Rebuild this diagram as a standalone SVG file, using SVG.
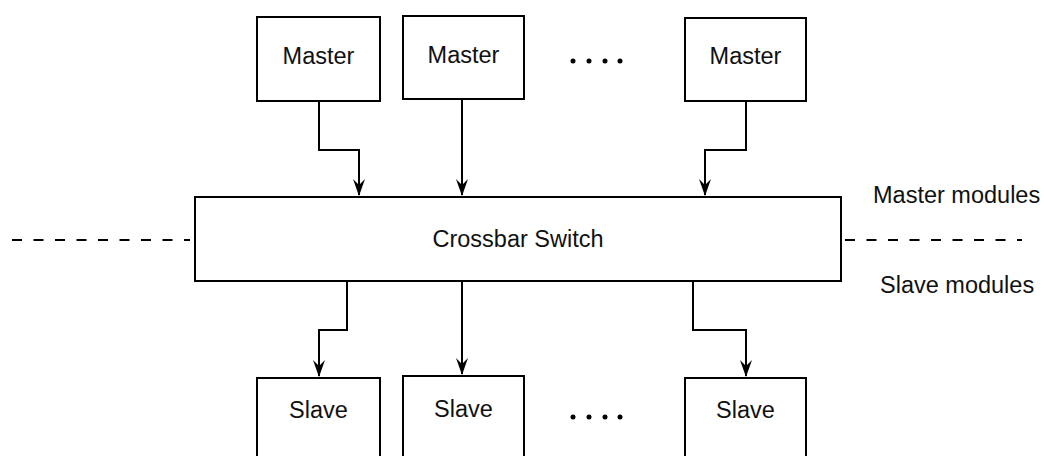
<svg xmlns="http://www.w3.org/2000/svg" width="1044" height="456" viewBox="0 0 1044 456">
<style>
.box{fill:#fff;stroke:#000;stroke-width:2}
.t{font-family:"Liberation Sans",Arial,sans-serif;font-size:23.5px;fill:#111;text-anchor:middle}
.l{font-family:"Liberation Sans",Arial,sans-serif;font-size:23.5px;fill:#111}
.c{fill:none;stroke:#000;stroke-width:2}
.d{fill:none;stroke:#000;stroke-width:2;stroke-dasharray:10 11.5}
</style>
<defs>
<marker id="ah" markerUnits="userSpaceOnUse" markerWidth="20" markerHeight="14" viewBox="-18 -7 20 14" refX="0" refY="0" orient="auto">
<path d="M1,0 L-16,-6 L-10,0 L-16,6 Z" fill="#000"/>
</marker>
</defs>
<g id="master1"><rect class="box" x="257" y="17" width="123" height="84"/><text class="t" x="318.5" y="64">Master</text></g>
<g id="master2"><rect class="box" x="403" y="16" width="121" height="83"/><text class="t" x="463.5" y="63">Master</text></g>
<g id="master3"><rect class="box" x="685" y="18" width="121" height="83"/><text class="t" x="745.5" y="64">Master</text></g>
<g id="dots-top"><circle cx="573" cy="61" r="2.5"/><circle cx="589" cy="61" r="2.5"/><circle cx="605" cy="61" r="2.5"/><circle cx="620" cy="61" r="2.5"/></g>
<g id="crossbar"><rect class="box" x="195" y="197" width="646" height="84"/><text class="t" x="518" y="247">Crossbar Switch</text></g>
<g id="slave1"><rect class="box" x="257" y="378" width="123" height="90"/><text class="t" x="318.5" y="418">Slave</text></g>
<g id="slave2"><rect class="box" x="403" y="376" width="121" height="92"/><text class="t" x="463.5" y="417">Slave</text></g>
<g id="slave3"><rect class="box" x="685" y="378" width="121" height="90"/><text class="t" x="745.5" y="418">Slave</text></g>
<g id="dots-bottom"><circle cx="573" cy="417" r="2.5"/><circle cx="589" cy="417" r="2.5"/><circle cx="605" cy="417" r="2.5"/><circle cx="620" cy="417" r="2.5"/></g>
<g id="labels"><text class="l" x="873" y="203">Master modules</text><text class="l" x="880" y="293">Slave modules</text></g>
<g id="connectors">
<path class="c" d="M319,101 V150 H359 V195" marker-end="url(#ah)"/>
<path class="c" d="M462,99 V195" marker-end="url(#ah)"/>
<path class="c" d="M746,101 V150 H705 V195" marker-end="url(#ah)"/>
<path class="c" d="M347,281 V330 H319 V376" marker-end="url(#ah)"/>
<path class="c" d="M462,281 V374" marker-end="url(#ah)"/>
<path class="c" d="M693,281 V330 H746 V376" marker-end="url(#ah)"/>
<path class="d" d="M12,240 H190"/>
<path class="d" d="M845,240 H1022"/>
</g>
</svg>
